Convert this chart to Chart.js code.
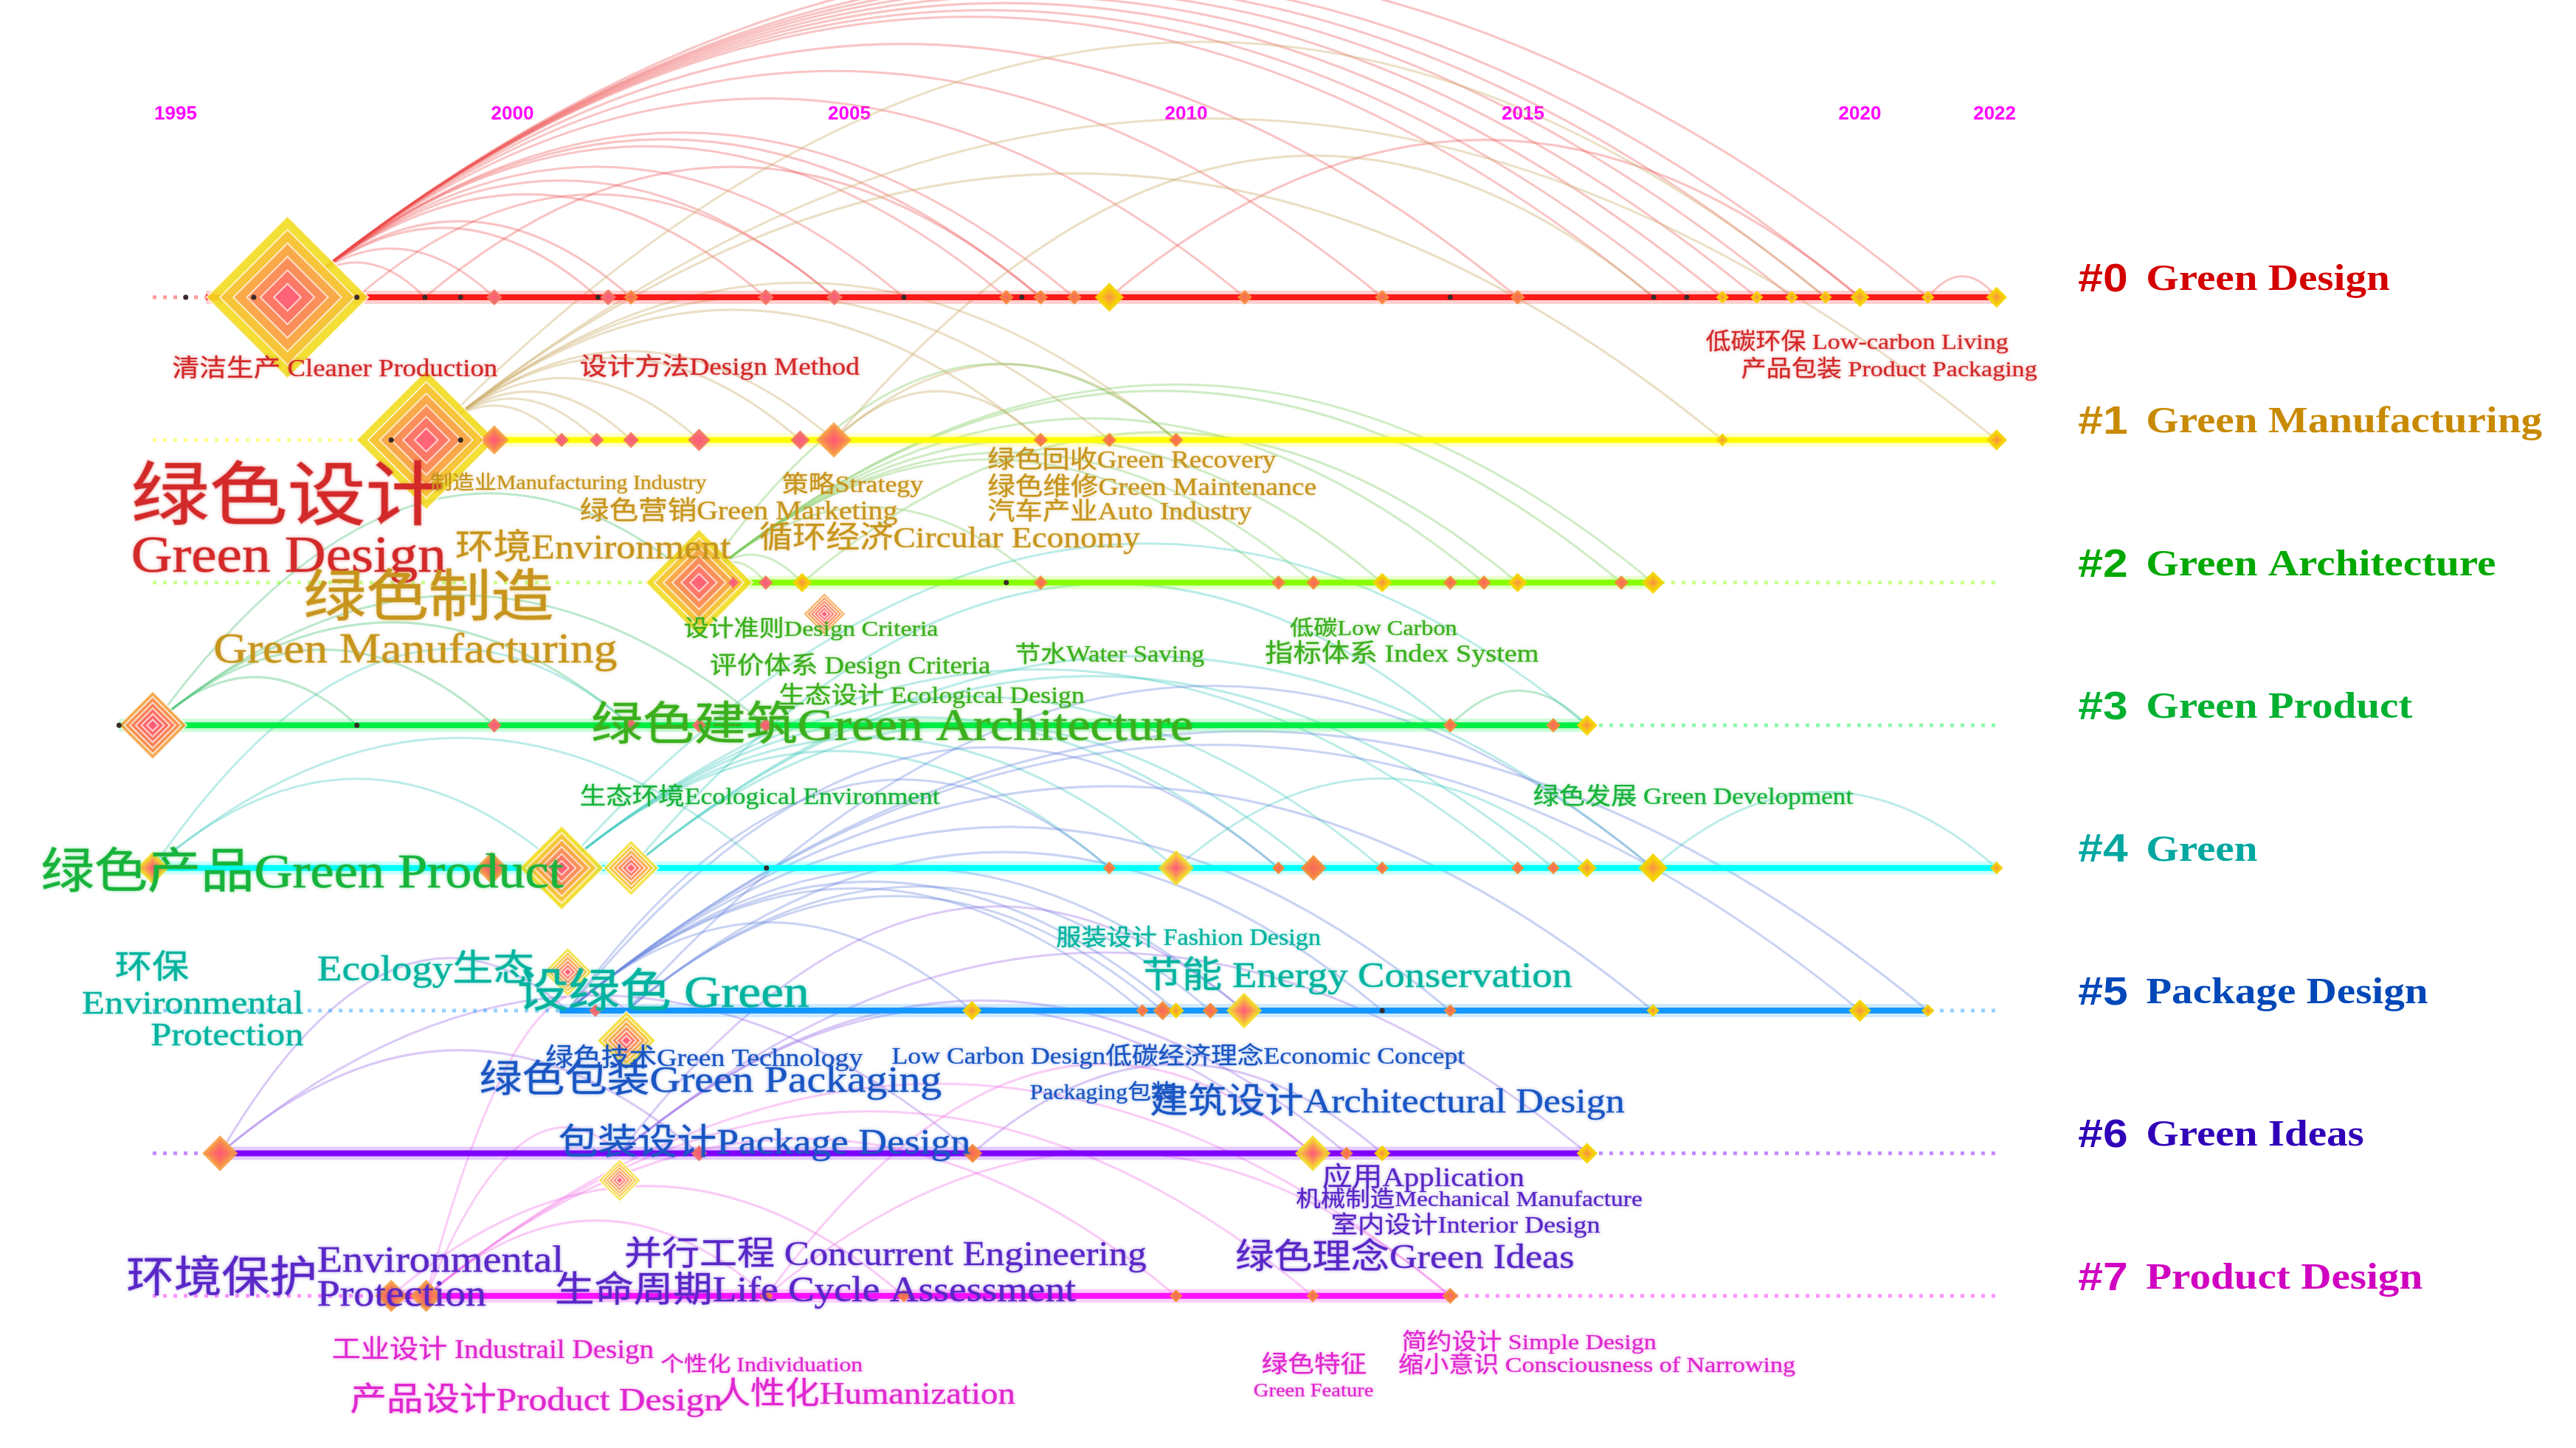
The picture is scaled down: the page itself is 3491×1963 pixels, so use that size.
<!DOCTYPE html>
<html>
<head>
<meta charset="utf-8">
<title>Timeline dei cluster</title>
<script src="https://cdn.jsdelivr.net/npm/chart.js@4.4.1/dist/chart.umd.min.js"></script>
<style>
  html, body { margin: 0; padding: 0; background: #fff; }
  canvas { display: block; }
</style>
</head>
<body>
<canvas id="timeline" width="3491" height="1963"></canvas>
<script>
// ---- dati ----
const yearTicks = [1995, 2000, 2005, 2010, 2015, 2020, 2022];
const clusterNames = ['Green Design', 'Green Manufacturing', 'Green Architecture', 'Green Product',
                      'Green', 'Package Design', 'Green Ideas', 'Product Design'];
const dottedRange = [1994.66, 2022.03];
const solidStart = [1995.45, 1998.2, 2002.6, 1994.16, 1994.66, 2000.7, 1995.66, 1998.2];
const solidEnd   = [2022.03, 2022.03, 2016.93, 2015.95, 2022.03, 2021.01, 2015.95, 2013.92];

// nodi: [anno, peso, tipo, scostamento verticale]
const nodes0 = [[1995.15,0,'k'],[1996.16,0,'k'],[1996.66,50,'r'],[1997.69,0,'k'],[1998.70,0,'k'],[1999.23,0,'k'],
  [1999.73,5,'p'],[2001.27,0,'k'],[2001.42,5,'p'],[2001.76,4.5,'o'],[2003.76,5,'p'],[2004.78,5,'p'],
  [2005.81,0,'k'],[2007.33,4.5,'o'],[2007.56,0,'k'],[2007.84,4.5,'o'],[2008.34,4.5,'o'],[2008.86,9,'y'],
  [2010.87,4.5,'o'],[2012.91,4.5,'o'],[2013.92,0,'k'],[2014.92,4.5,'o'],[2016.94,0,'k'],[2017.43,0,'k'],
  [2017.96,4,'y'],[2018.47,4,'y'],[2018.99,4,'y'],[2019.49,4,'y'],[2020.00,6,'y'],[2021.01,4,'y'],[2022.03,6.5,'y']];
const nodes1 = [[1998.20,0,'k'],[1998.72,43,'r'],[1999.23,0,'k'],[1999.73,9,'q'],[2000.73,4.5,'p'],[2001.25,4.5,'p'],
  [2001.76,5,'p'],[2002.77,7,'p'],[2004.27,6,'p'],[2004.77,11,'q'],[2007.84,4.5,'o'],[2008.86,4.5,'o'],
  [2009.85,4.5,'o'],[2017.96,4,'y'],[2022.03,6.5,'y']];
const nodes2 = [[2002.77,33,'r'],[2003.27,4.5,'p'],[2003.76,4.5,'p'],[2004.30,6,'y'],[2004.63,13,'q',0.22],
  [2007.33,0,'k'],[2007.84,4.5,'o'],[2011.37,4.5,'o'],[2011.89,4.5,'o'],[2012.91,6,'y'],[2013.92,4.5,'o'],
  [2014.42,4.5,'o'],[2014.92,6,'y'],[2016.46,4.5,'o'],[2016.93,7,'y']];
const nodes3 = [[1994.16,0,'k'],[1994.66,21,'q'],[1997.69,0,'k'],[1999.73,4.5,'p'],[2001.76,4.5,'p'],
  [2002.77,4.5,'p'],[2003.76,4.5,'p'],[2013.92,4.5,'o'],[2015.45,4.5,'o'],[2015.95,6.5,'y']];
const nodes4 = [[1994.66,10,'r'],[1999.69,10,'q'],[2000.73,26,'r'],[2001.76,17,'r'],[2003.77,0,'k'],
  [2008.86,4,'o'],[2009.85,11,'r'],[2011.37,4,'o'],[2011.89,8,'o'],[2012.91,4,'o'],[2014.92,4,'o'],
  [2015.45,4,'o'],[2015.95,6,'y'],[2016.93,9,'y'],[2022.03,4,'y']];
const nodes5 = [[2000.82,15,'r',-0.27],[2001.23,4,'p'],[2001.69,18,'r',0.21],[2006.82,6,'y'],[2009.35,4,'o'],
  [2009.65,6,'o'],[2009.85,5,'y'],[2010.36,5,'o'],[2010.86,11,'r'],[2012.91,0,'k'],[2013.92,4,'o'],
  [2016.93,4,'y'],[2020.00,7,'y'],[2021.01,4,'y']];
const nodes6 = [[1995.66,11,'q'],[2001.59,13,'r',0.19],[2002.77,5,'p'],[2006.83,6,'o'],[2011.88,11,'r'],
  [2012.38,4,'o'],[2012.91,5,'y'],[2015.95,6.5,'y']];
const nodes7 = [[1998.20,10,'q'],[1998.72,10,'q'],[2003.77,4,'o'],[2005.81,4,'o'],[2009.85,4,'o'],
  [2011.88,4,'o'],[2013.92,5,'o']];

// archi di co-occorrenza dentro ogni cluster: [da, a]
const links0 = [[1996.66,1997.69],[1996.66,1998.70],[1996.66,1999.73],[1996.66,2001.27],[1996.66,2001.76],
  [1996.66,2003.76],[1996.66,2004.78],[1996.66,2005.81],[1996.66,2007.33],[1996.66,2007.84],[1996.66,2008.34],
  [1996.66,2010.87],[1996.66,2012.91],[1996.66,2014.92],[1996.66,2016.94],[1996.66,2017.43],[1996.66,2017.96],
  [1996.66,2018.47],[1996.66,2018.99],[1996.66,2019.49],[1996.66,2020.00],[1996.66,2021.01],[2008.86,2020.00],
  [2021.01,2022.03],[1997.69,2004.78],[1998.70,2007.84]];
const links1 = [[1998.72,1999.73],[1998.72,2000.73],[1998.72,2001.25],[1998.72,2001.76],[1998.72,2002.77],
  [1998.72,2004.27],[1998.72,2004.77],[1998.72,2007.84],[1998.72,2008.86],[1998.72,2009.85],[1998.72,2017.96],
  [1998.72,2022.03],[2004.77,2007.84],[2004.77,2009.85]];
const links2 = [[2002.77,2003.27],[2002.77,2003.76],[2002.77,2004.30],[2002.77,2007.84],[2002.77,2011.37],
  [2002.77,2011.89],[2002.77,2012.91],[2002.77,2014.42],[2002.77,2016.46],[2002.77,2016.93],[2004.30,2014.92]];
const links3 = [[1994.66,1997.69],[1994.66,1999.73],[1994.66,2001.76],[1994.66,2003.76],[2013.92,2015.95]];
const links4 = [[1994.66,2000.73],[1994.66,2003.77],[2000.73,2008.86],[2000.73,2009.85],[2000.73,2011.37],
  [2000.73,2012.91],[2000.73,2014.92],[2001.76,2011.89],[2001.76,2015.45],[2001.76,2016.93],[2009.85,2015.95],
  [2016.93,2022.03]];
const links5 = [[2000.82,2006.82],[2000.82,2009.35],[2000.82,2009.85],[2000.82,2010.86],[2000.82,2013.92],
  [2000.82,2016.93],[2000.82,2020.00],[2000.82,2021.01],[2001.69,2009.65],[2001.69,2010.36],[2001.69,2012.91]];
const links6 = [[1995.66,2002.77],[1995.66,2006.83],[2001.59,2011.88],[2001.59,2012.38],[2001.59,2015.95],
  [2006.83,2012.91]];
const links7 = [[1998.72,2003.77],[1998.72,2009.85],[1998.72,2011.88],[1998.72,2013.92],[1998.20,2005.81],
  [2003.77,2013.92]];
// archi tra cluster diversi: [cluster, anno, cluster, anno]
const crossLinks = [[6,1995.66,5,2000.82],[7,1998.72,6,2001.59],[7,1998.72,5,2001.69],[4,1994.66,3,2001.76],
  [4,2000.73,3,2015.95],[5,2000.82,4,2011.37],[5,2001.69,4,2016.93],[3,1994.66,2,2002.77],[2,2002.77,1,2009.85],
  [1,1998.72,0,2019.49],[1,2004.77,0,2016.94],[4,2001.76,3,2013.92],[5,2000.82,4,2008.86],[6,2001.59,5,2010.86],
  [7,2003.77,6,2011.88]];

// parole chiave: [testo, anno inizio, anno fine, posizione verticale]
const kw0 = [['清洁生产 Cleaner Production',1994.95,1999.78,0.51],['设计方法Design Method',2001.0,2005.15,0.50],
  ['低碳环保 Low-carbon Living',2017.71,2022.2,0.32],['产品包装 Product Packaging',2018.24,2022.63,0.51],
  ['绿色设计',1994.34,1998.98,1.43],['Green Design',1994.34,1999.02,1.83]];
const kw1 = [['制造业Manufacturing Industry',1998.78,2002.88,1.31],['策略Strategy',2004.0,2006.1,1.32],
  ['绿色营销Green Marketing',2001.0,2005.71,1.51],['环境Environment',1999.15,2003.24,1.77],
  ['循环经济Circular Economy',2003.66,2009.32,1.70],['绿色回收Green Recovery',2007.05,2011.34,1.15],
  ['绿色维修Green Maintenance',2007.05,2011.93,1.34],['汽车产业Auto Industry',2007.05,2010.98,1.51],
  ['绿色制造',1996.9,2000.61,2.13],['Green Manufacturing',1995.56,2001.56,2.48]];
const kw2 = [['设计准则Design Criteria',2002.54,2006.32,2.33],['评价体系 Design Criteria',2002.93,2007.1,2.59],
  ['节水Water Saving',2007.46,2010.27,2.51],['生态设计 Ecological Design',2003.95,2008.49,2.80],
  ['低碳Low Carbon',2011.54,2014.02,2.33],['指标体系 Index System',2011.17,2015.24,2.51],
  ['绿色建筑Green Architecture',2001.17,2010.1,3.02]];
const kw3 = [['生态环境Ecological Environment',2001.0,2006.34,3.51],['绿色发展 Green Development',2015.15,2019.9,3.51],
  ['绿色产品Green Product',1993.0,2000.76,4.05]];
const kw4 = [['环保',1994.1,1995.2,4.71],['Environmental',1993.61,1996.9,4.96],['Protection',1994.63,1996.9,5.18],
  ['Ecology生态',1997.1,2000.32,4.72],['设绿色 Green',2000.07,2004.41,4.89],
  ['服装设计 Fashion Design',2008.07,2012.0,4.50],['节能 Energy Conservation',2009.34,2015.73,4.77]];
const kw5 = [['绿色技术Green Technology',2000.49,2005.2,5.34],
  ['Low Carbon Design低碳经济理念Economic Concept',2005.63,2014.15,5.33],
  ['绿色包装Green Packaging',1999.51,2006.37,5.50],['Packaging包装',2007.68,2009.83,5.58],
  ['建筑设计Architectural Design',2009.46,2016.51,5.65],['包装设计Package Design',2000.68,2006.8,5.94]];
const kw6 = [['应用Application',2012.02,2015.02,6.18],['机械制造Mechanical Manufacture',2011.63,2016.78,6.33],
  ['室内设计Interior Design',2012.15,2016.15,6.51],['绿色理念Green Ideas',2010.73,2015.76,6.74],
  ['并行工程 Concurrent Engineering',2001.66,2009.41,6.72],['生命周期Life Cycle Assessment',2000.63,2008.37,6.97],
  ['环境保护',1994.27,1997.1,6.89],['Environmental',1997.1,2000.76,6.76],['Protection',1997.1,1999.61,7.00]];
const kw7 = [['工业设计 Industrail Design',1997.32,2002.1,7.39],['个性化 Individuation',2002.2,2005.2,7.49],
  ['产品设计Product Design',1997.59,2003.12,7.74],['人性化Humanization',2003.02,2007.46,7.70],
  ['绿色特征',2011.12,2012.68,7.49],['Green Feature',2011.0,2012.78,7.67],
  ['简约设计 Simple Design',2013.2,2016.98,7.33],['缩小意识 Consciousness of Narrowing',2013.15,2019.05,7.49]];

// ---- stile ----
const lineColors  = ['#ff1a1a','#ffff00','#88ff00','#00ee44','#00ffff','#1496ff','#8000ff','#ff10ff'];
const textColors  = ['#d42a2a','#c8961e','#3cb01e','#18b43c','#00b4a0','#1a56c4','#5a28c8','#e028d0'];
const titleColors = ['#d40000','#c88a00','#00a800','#00b030','#00a8a0','#0048b8','#3000b8','#d000c0'];
const linkColors  = ['rgba(235,70,70,0.32)','rgba(205,175,110,0.4)','rgba(120,200,90,0.35)','rgba(60,190,110,0.35)',
                     'rgba(60,200,190,0.35)','rgba(100,130,220,0.35)','rgba(150,100,230,0.35)','rgba(240,110,230,0.35)'];
const palette = {
  r: ['#f2dc20','#f7c23c','#f9a64c','#fb8c5c','#fd7668','#ff6078'],
  q: ['#f5a040','#f88e4c','#fa7e58','#fc7062','#fe666c','#ff5c78'],
  y: ['#f5d400','#f5d000','#f6c414','#f7b428','#f8a434','#f8943c'],
  o: ['#f39038','#f58640','#f77c48','#f87650','#f97058','#fa6a60'],
  p: ['#f27a62','#f4726a','#f66c70','#f86676','#fa607c','#fc5a82']
};
const SERIF = "'Liberation Serif', 'Noto Sans CJK SC', serif";
const STRETCH = 1.12;   // il grafico originale e' allargato in orizzontale
const LAYERS = 6;

function withAlpha(hex, a) {
  const n = parseInt(hex.slice(1), 16);
  return `rgba(${n >> 16}, ${(n >> 8) & 255}, ${n & 255}, ${a})`;
}

// ---- dataset ----
const nodeLists = [nodes0, nodes1, nodes2, nodes3, nodes4, nodes5, nodes6, nodes7];
const linkLists = [links0, links1, links2, links3, links4, links5, links6, links7];
const kwLists   = [kw0, kw1, kw2, kw3, kw4, kw5, kw6, kw7];

const allNodes = nodeLists.flatMap((arr, c) =>
  arr.map(([t, w, kind, dy]) => ({ x: t, y: c + (dy || 0), w, kind })));
const diamonds = allNodes.filter(n => n.kind !== 'k');
const dots = allNodes.filter(n => n.kind === 'k');

const datasets = [];
clusterNames.forEach((name, c) => {
  datasets.push({ // tratteggio lungo tutto l'asse
    data: [{ x: dottedRange[0], y: c }, { x: dottedRange[1], y: c }],
    showLine: true, borderColor: withAlpha(lineColors[c], 0.45), borderWidth: 5,
    borderDash: [5, 9], pointRadius: 0, order: 40, clip: false
  });
  datasets.push({ // alone
    data: [{ x: solidStart[c], y: c }, { x: solidEnd[c], y: c }],
    showLine: true, borderColor: withAlpha(lineColors[c], 0.2), borderWidth: 18,
    pointRadius: 0, order: 31, clip: false
  });
  datasets.push({ // linea piena
    data: [{ x: solidStart[c], y: c }, { x: solidEnd[c], y: c }],
    showLine: true, borderColor: lineColors[c], borderWidth: 8,
    pointRadius: 0, order: 30, clip: false
  });
});

for (let L = 0; L < LAYERS; L++) {
  datasets.push({
    data: diamonds, order: 20 - L, clip: false,
    pointStyle: 'rectRot',
    pointRadius: ctx => ctx.raw ? 2.2 * ctx.raw.w * (1 - L / LAYERS) : 0,
    backgroundColor: ctx => ctx.raw ? withAlpha(palette[ctx.raw.kind][L], 0.9) : 'transparent',
    borderColor: 'rgba(255,255,255,0.7)',
    borderWidth: ctx => (ctx.raw && ctx.raw.w > 12) ? 2 : 0
  });
}
datasets.push({
  data: dots, order: 5, clip: false, pointStyle: 'circle', pointRadius: 3.5,
  backgroundColor: '#3a2a2a', borderWidth: 0
});

// archi disegnati con le scale del grafico
const arcPlugin = {
  id: 'arcs',
  beforeDatasetsDraw(chart) {
    const { ctx, scales: { x, y } } = chart;
    const arc = (c1, t1, c2, t2, color) => {
      const x1 = x.getPixelForValue(t1), x2 = x.getPixelForValue(t2);
      const y1 = y.getPixelForValue(c1), y2 = y.getPixelForValue(c2);
      const h = 0.2 * Math.abs(x2 - x1) + 10;
      ctx.beginPath();
      ctx.strokeStyle = color;
      ctx.moveTo(x1, y1);
      ctx.quadraticCurveTo((x1 + x2) / 2, Math.min(y1, y2) - 2 * h, x2, y2);
      ctx.stroke();
    };
    ctx.save();
    ctx.lineWidth = 3;
    linkLists.forEach((list, c) => list.forEach(([a, b]) => arc(c, a, c, b, linkColors[c])));
    crossLinks.forEach(([c1, a, c2, b]) => arc(c1, a, c2, b, linkColors[c1]));
    ctx.restore();
  }
};

// etichette delle parole chiave e dei cluster
const labelPlugin = {
  id: 'labels',
  afterDatasetsDraw(chart) {
    const { ctx, scales: { x, y } } = chart;
    ctx.save();
    ctx.textBaseline = 'middle';
    kwLists.forEach((list, c) => {
      list.forEach(([text, t0, t1, yc]) => {
        const px0 = x.getPixelForValue(t0), px1 = x.getPixelForValue(t1);
        ctx.font = `100px ${SERIF}`;
        const size = 100 * (px1 - px0) / (ctx.measureText(text).width * STRETCH);
        ctx.save();
        ctx.translate(px0, y.getPixelForValue(yc));
        ctx.scale(STRETCH, 1);
        ctx.font = `${size.toFixed(1)}px ${SERIF}`;
        ctx.fillStyle = textColors[c];
        ctx.strokeStyle = withAlpha(textColors[c], 0.5);
        ctx.lineWidth = Math.max(0.6, size / 60);
        ctx.shadowColor = withAlpha(textColors[c], 0.35);
        ctx.shadowBlur = 5;
        ctx.fillText(text, 0, 0);
        ctx.strokeText(text, 0, 0);
        ctx.restore();
      });
    });
    // titoli dei cluster a destra
    clusterNames.forEach((name, c) => {
      ctx.save();
      ctx.translate(x.getPixelForValue(2023.24), y.getPixelForValue(c - 0.12));
      ctx.scale(STRETCH, 1);
      ctx.fillStyle = titleColors[c];
      ctx.font = "bold 54px 'Liberation Sans', Arial, sans-serif";
      const tag = '#' + c;
      ctx.fillText(tag, 0, 0);
      const off = ctx.measureText(tag).width + 22;
      ctx.font = `bold 51px ${SERIF}`;
      ctx.fillText(name, off, 0);
      ctx.restore();
    });
    ctx.restore();
  }
};

const X_MIN = 1992.393, X_MAX = 2030.63;
const Y_MIN = -1.179, Y_MAX = 8.066;

new Chart(document.getElementById('timeline').getContext('2d'), {
  type: 'scatter',
  data: { datasets },
  options: {
    responsive: false,
    animation: false,
    devicePixelRatio: 1,
    events: [],
    layout: { padding: 0, autoPadding: false },
    plugins: { legend: { display: false }, tooltip: { enabled: false } },
    scales: {
      x: {
        type: 'linear', position: 'top', min: X_MIN, max: X_MAX,
        afterBuildTicks: axis => { axis.ticks = yearTicks.map(v => ({ value: v })); },
        afterFit: axis => { axis.height = 175; },
        grid: { display: false, drawTicks: false },
        border: { display: false },
        ticks: {
          color: '#ff00ff', padding: 5, autoSkip: false, maxRotation: 0,
          font: { family: "'Liberation Sans Narrow', 'Liberation Sans', Arial", size: 26, weight: 'bold' },
          callback: v => String(v)
        }
      },
      y: { display: false, reverse: true, min: Y_MIN, max: Y_MAX }
    }
  },
  plugins: [arcPlugin, labelPlugin]
});
</script>
</body>
</html>
